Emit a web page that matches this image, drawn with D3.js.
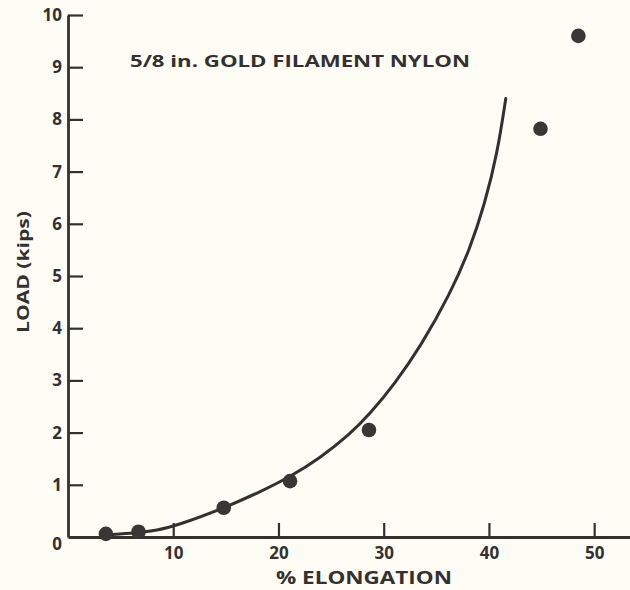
<!DOCTYPE html>
<html>
<head>
<meta charset="utf-8">
<script src="https://cdn.jsdelivr.net/npm/d3@7"></script>
<style>
  body { margin: 0; background: #fdfdf6; }
  text { font-family: "Open Sans", "DejaVu Sans", sans-serif; font-weight: 700; fill: #343030; }
</style>
</head>
<body>
<div id="chart"></div>
<script>
// measured points (elongation %, load kips)
const elongation = [3.6, 6.7, 14.8, 21.1, 28.6, 44.9, 48.5];
const load = [0.06, 0.1, 0.56, 1.07, 2.05, 7.82, 9.6];

// fitted curve
const curveX = [3.8, 6.5, 8.5, 10.2, 14.8, 18.2, 21.1, 24, 26.8, 28.7, 31.1, 33.5, 36.3, 38.2, 39.6, 40.8, 41.6];
const curveY = [0.04, 0.08, 0.13, 0.21, 0.55, 0.86, 1.15, 1.52, 1.97, 2.36, 2.95, 3.65, 4.65, 5.52, 6.38, 7.35, 8.4];

const xTicks = [10, 20, 30, 40, 50];
const yTicks = [1, 2, 3, 4, 5, 6, 7, 8, 9, 10];

const title = "5/8 in. GOLD FILAMENT NYLON";
const xLabel = "% ELONGATION";
const yLabel = "LOAD (kips)";

const W = 630, H = 590;
const ink = "#343030";

const svg = d3.select("#chart")
    .append("svg")
    .attr("width", W)
    .attr("height", H);

svg.append("rect").attr("width", W).attr("height", H).attr("fill", "#fdfdf6");

// scales
const x = d3.scaleLinear().domain([0, 53.5]).range([68, 631]);
const y = d3.scaleLinear().domain([0, 10]).range([537, 15]);

// axes, ticks pointing inward
const xAxis = d3.axisBottom(x).tickValues(xTicks).tickSize(-14).tickPadding(8).tickSizeOuter(0);
const yAxis = d3.axisLeft(y).tickValues(yTicks).tickSize(-15).tickPadding(6).tickSizeOuter(0);

const gx = svg.append("g")
    .attr("transform", `translate(0,${y(0)})`)
    .call(xAxis);
gx.select(".domain").attr("stroke", ink).attr("stroke-width", 2.8);
gx.selectAll(".tick line").attr("stroke", ink).attr("stroke-width", 2.2);
gx.selectAll(".tick text").style("font-size", "17px").attr("dy", "0.85em");

const gy = svg.append("g")
    .attr("transform", `translate(${x(0)},0)`)
    .call(yAxis);
gy.select(".domain").attr("stroke", ink).attr("stroke-width", 2.8);
gy.selectAll(".tick line").attr("stroke", ink).attr("stroke-width", 2.2);
gy.selectAll(".tick text").style("font-size", "17px");

// the shared zero at the origin
svg.append("text")
    .attr("x", x(0) - 6)
    .attr("y", y(0) + 8)
    .attr("text-anchor", "end")
    .attr("dominant-baseline", "middle")
    .style("font-size", "17px")
    .text("0");

// curve (smoothed through the read-off points)
const line = d3.line()
    .x(d => x(d[0]))
    .y(d => y(d[1]))
    .curve(d3.curveBasis);

svg.append("path")
    .datum(d3.zip(curveX, curveY))
    .attr("d", line)
    .attr("fill", "none")
    .attr("stroke", ink)
    .attr("stroke-width", 3)
    .attr("stroke-linecap", "round");

// points
svg.append("g")
    .selectAll("circle")
    .data(d3.zip(elongation, load))
    .join("circle")
    .attr("cx", d => x(d[0]))
    .attr("cy", d => y(d[1]))
    .attr("r", 7.3)
    .attr("fill", "#3a3636");

// labels
svg.append("text")
    .attr("x", 130)
    .attr("y", 67)
    .attr("textLength", 340)
    .attr("lengthAdjust", "spacingAndGlyphs")
    .style("font-size", "16px")
    .text(title);

svg.append("text")
    .attr("x", 364)
    .attr("y", 584)
    .attr("text-anchor", "middle")
    .attr("textLength", 176)
    .attr("lengthAdjust", "spacingAndGlyphs")
    .style("font-size", "17px")
    .text(xLabel);

svg.append("text")
    .attr("transform", "translate(29,272) rotate(-90)")
    .attr("text-anchor", "middle")
    .attr("textLength", 122)
    .attr("lengthAdjust", "spacingAndGlyphs")
    .style("font-size", "16px")
    .text(yLabel);
</script>
</body>
</html>
